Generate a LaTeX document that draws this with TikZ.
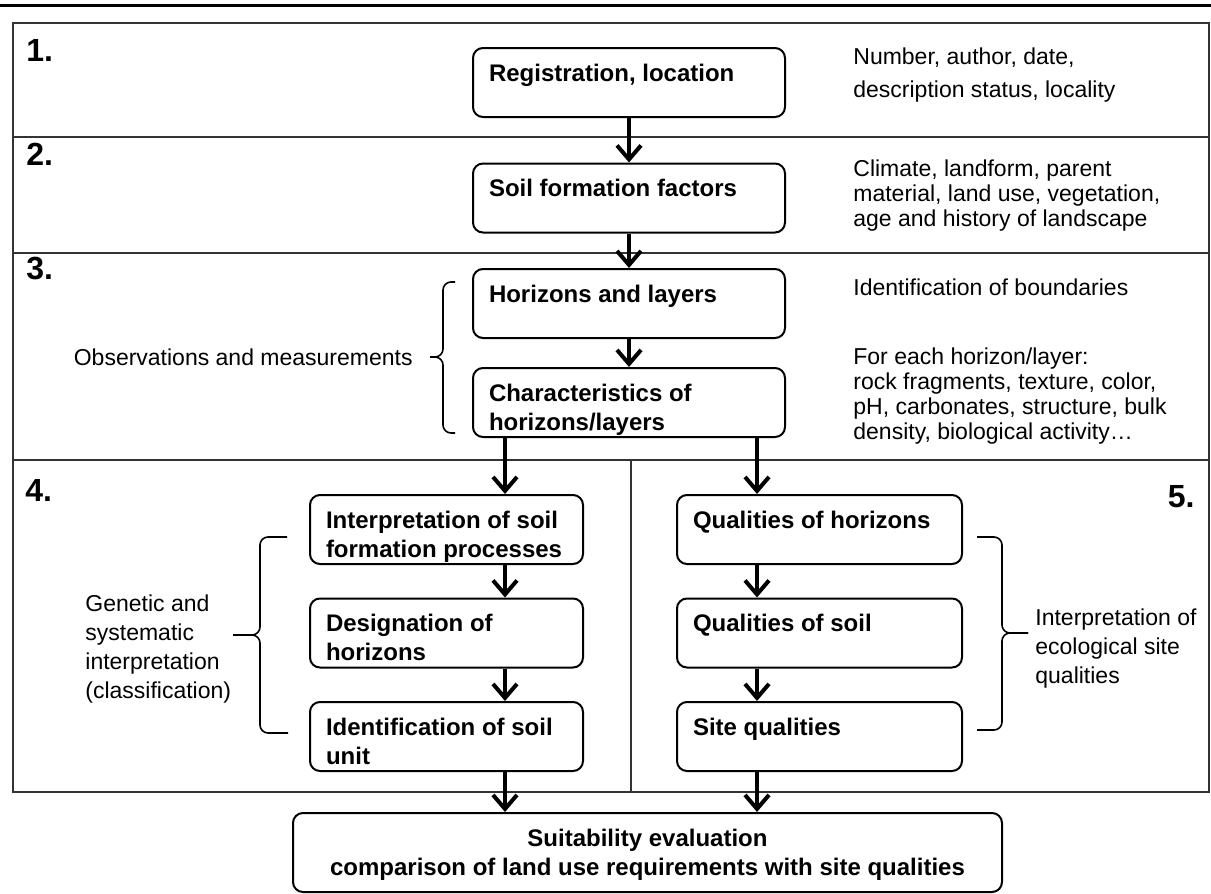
\documentclass[tikz,border=0pt]{standalone}
\usepackage{fontspec}
\setmainfont{Liberation Sans}
\usetikzlibrary{arrows.meta}
\newcommand\boxtext[3][34.5pt]{\parbox[c][#1][t]{#2}{\raggedright\vspace*{8pt}#3}}
\begin{document}
\begin{tikzpicture}[x=.5pt,y=-.5pt,
 stage/.style={draw,line width=1pt,rounded corners=5pt,inner xsep=8pt,inner ysep=0pt,
  font=\bfseries\fontsize{12}{14.5}\selectfont},
 note/.style={align=left,inner sep=0pt,font=\fontsize{11.5}{#1}\selectfont},
 note/.default=12.5pt,
 num/.style={inner sep=0pt,font=\bfseries\fontsize{16}{18}\selectfont},
 flow/.style={line width=2pt,-{Straight Barb[length=7pt,width=12pt]}},
 frame/.style={line width=1pt,black!80},
 brace/.style={line width=.8pt,rounded corners=4pt}]
 \useasboundingbox (0,0) rectangle (1211,894);
 \draw[line width=1.5pt] (0,5)--(1211,5);
 % sections
 \draw[frame] (13,23) rectangle (1209,792);
 \draw[frame] (13,137)--(1209,137) (13,253)--(1209,253) (13,460)--(1209,460)
  (631,460)--(631,792);
 \node[num,anchor=west] (n1) at (26,50) {1.};
 \node[num,anchor=west] (n2) at (26,154) {2.};
 \node[num,anchor=west] (n3) at (26,269) {3.};
 \node[num,anchor=west] (n4) at (25,490) {4.};
 \node[num,anchor=east] (n5) at (1195,497) {5.};
 % center column
 \node[stage] (reg) at (629,82.5) {\boxtext{140pt}{Registration, location}};
 \node[stage] (soil) at (629,198) {\boxtext{140pt}{Soil formation factors}};
 \node[stage] (hor) at (629,303.5) {\boxtext{140pt}{Horizons and layers}};
 \node[stage] (char) at (629,402.5) {\boxtext{140pt}{Characteristics of\\horizons/layers}};
 % left column
 \node[stage] (interp) at (446.5,529.5) {\boxtext{120.5pt}{Interpretation of soil\\formation processes}};
 \node[stage] (desig) at (446.5,633) {\boxtext{120.5pt}{Designation of\\horizons}};
 \node[stage] (ident) at (446.5,736.5) {\boxtext{120.5pt}{Identification of soil\\unit}};
 % right column
 \node[stage] (qualh) at (819.5,529.5) {\boxtext{126.5pt}{Qualities of horizons}};
 \node[stage] (quals) at (819.5,633) {\boxtext{126.5pt}{Qualities of soil}};
 \node[stage] (site) at (819.5,736.5) {\boxtext{126.5pt}{Site qualities}};
 \node[stage] (suit) at (647.5,852.5) {\boxtext[39.5pt]{338.5pt}{\centering Suitability evaluation\\
  comparison of land use requirements with site qualities}};
 % notes
 \node[note=16.5pt,anchor=west] (regnote) at (853,75) {Number, author, date,\\description status, locality};
 \node[note,anchor=west] (soilnote) at (853,196) {Climate, landform, parent\\material, land use, vegetation,\\age and history of landscape};
 \node[note,anchor=west] (hornote) at (853,287) {Identification of boundaries};
 \node[note,anchor=west] (charnote) at (853,396) {For each horizon/layer:\\rock fragments, texture, color,\\pH, carbonates, structure, bulk\\density, biological activity…};
 \node[note,anchor=east] (obs) at (413,357) {Observations and measurements};
 \node[note=14.5pt,anchor=west] (gen) at (85,649) {Genetic and\\systematic\\interpretation\\(classification)};
 \node[note=14.5pt,anchor=west] (eco) at (1035,649) {Interpretation of\\ecological site\\qualities};
 % braces
 \draw[brace] (455,282) -| (443,357) -- (430,357);
 \draw[brace] (455,433) -| (443,357) -- (430,357);
 \draw[brace] (287,537) -| (260,635) -- (233,635);
 \draw[brace] (288,733) -| (260,635) -- (233,635);
 \draw[brace] (977,537) -| (1002,633) -- (1028,633);
 \draw[brace] (977,730) -| (1002,633) -- (1028,633);
 % arrows
 \coordinate (lx) at (505,0);
 \coordinate (rx) at (757,0);
 \draw[flow] (reg)--(soil);
 \draw[flow] (soil)--(hor);
 \draw[flow] (hor)--(char);
 \draw[flow] (char.south -| lx)--(interp.north -| lx);
 \draw[flow] (char.south -| rx)--(qualh.north -| rx);
 \draw[flow] (interp.south -| lx)--(desig.north -| lx);
 \draw[flow] (desig.south -| lx)--(ident.north -| lx);
 \draw[flow] (qualh.south -| rx)--(quals.north -| rx);
 \draw[flow] (quals.south -| rx)--(site.north -| rx);
 \draw[flow] (ident.south -| lx)--(suit.north -| lx);
 \draw[flow] (site.south -| rx)--(suit.north -| rx);
\end{tikzpicture}
\end{document}
